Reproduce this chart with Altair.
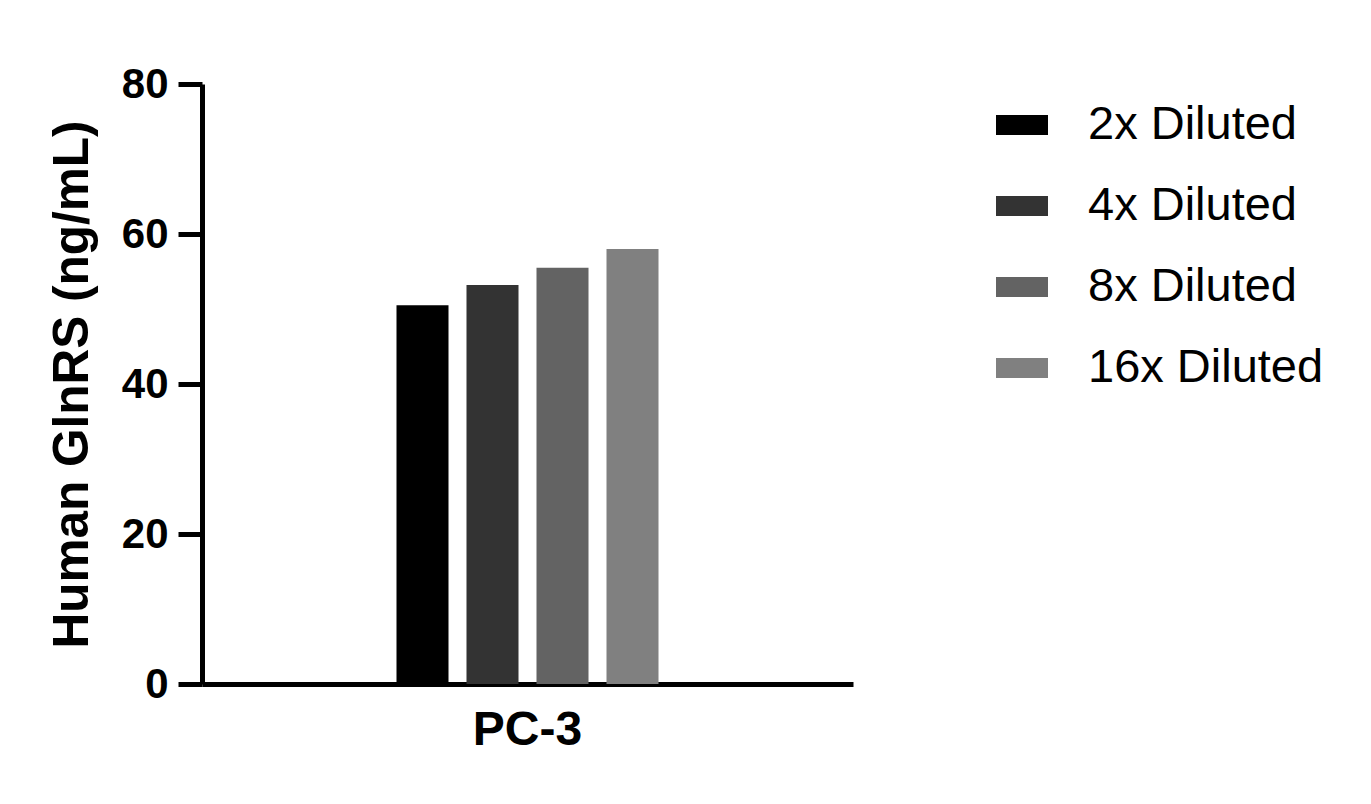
import altair as alt
import pandas as pd

categories = ["PC-3"]
series = ["2x Diluted", "4x Diluted", "8x Diluted", "16x Diluted"]
values = [50.5, 53.2, 55.5, 58.0]
colors = ["#000000", "#333333", "#636363", "#808080"]
y_ticks = [0, 20, 40, 60, 80]

df = pd.DataFrame({
    "cat": [categories[0]] * len(series),
    "series": series,
    "value": values,
})

FONT = "Liberation Sans"

chart = alt.Chart(df).mark_bar().encode(
    x=alt.X("cat:N", title=None,
            scale=alt.Scale(paddingInner=0, paddingOuter=0.6625),
            axis=alt.Axis(labelAngle=0, ticks=False, labelFont=FONT, labelFontSize=48,
                          labelFontWeight="bold", labelColor="black", labelPadding=22,
                          domainColor="black", domainWidth=5)),
    xOffset=alt.XOffset("series:N", sort=series,
                        scale=alt.Scale(paddingInner=0.257, paddingOuter=0.1285)),
    y=alt.Y("value:Q", title="Human GlnRS (ng/mL)",
            scale=alt.Scale(domain=[0, 80], nice=False),
            axis=alt.Axis(values=y_ticks, grid=False, tickSize=24, tickWidth=5, tickColor="black",
                          domainColor="black", domainWidth=5, labelFont=FONT, labelFontSize=42,
                          labelFontWeight="bold", labelColor="black", labelPadding=10,
                          titleFont=FONT, titleFontSize=49.5, titleFontWeight="bold",
                          titleColor="black", titlePadding=24)),
    color=alt.Color("series:N", sort=series,
                    scale=alt.Scale(domain=series, range=colors),
                    legend=alt.Legend(title=None, orient="none", legendX=794, legendY=15,
                                      symbolType="M-1,-0.385L1,-0.385L1,0.385L-1,0.385Z",
                                      symbolSize=2704, symbolStrokeWidth=0,
                                      labelFont=FONT, labelFontSize=47, labelColor="black",
                                      labelOffset=40, rowPadding=32, labelLimit=400)),
).properties(
    width=651, height=600,
    autosize=alt.AutoSizeParams(type="none"),
    padding={"left": 194, "top": 76, "right": 500, "bottom": 100},
).configure_view(stroke=None)

chart.save("out.html", embed_options={"renderer": "svg", "actions": False})
